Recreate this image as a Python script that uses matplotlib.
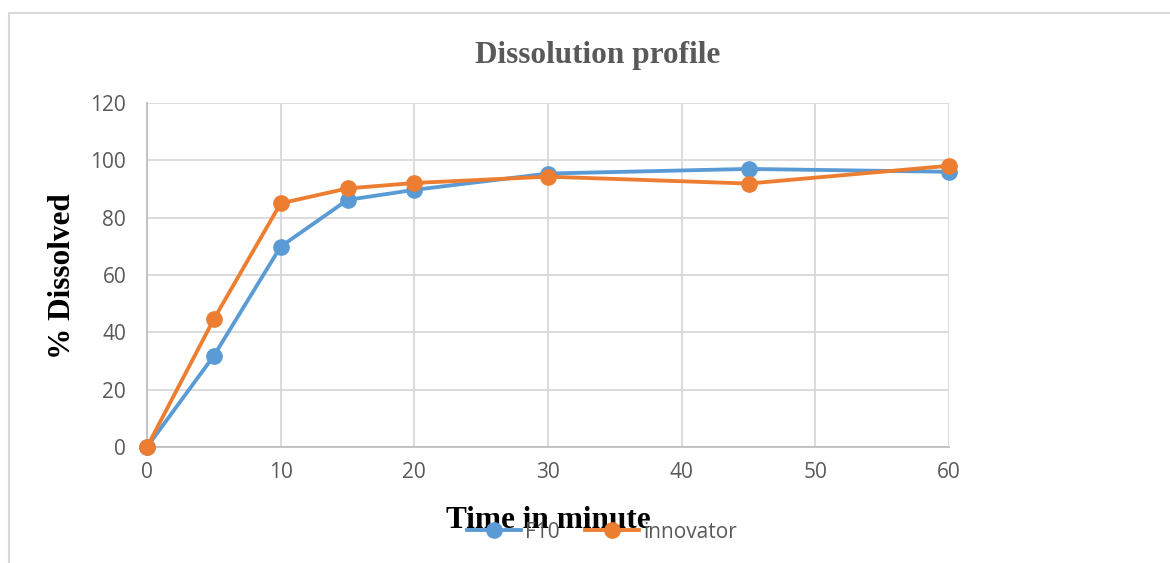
import matplotlib
matplotlib.use('Agg')
from matplotlib import pyplot as plt
from matplotlib.patches import Rectangle

# data
time_min = [0, 5, 10, 15, 20, 30, 45, 60]
f10 = [0, 31.8, 69.9, 86.2, 89.7, 95.4, 97.0, 96.0]
innovator = [0, 44.6, 85.0, 90.2, 92.1, 94.3, 91.9, 98.1]
x_ticks = [0, 10, 20, 30, 40, 50, 60]
y_ticks = [0, 20, 40, 60, 80, 100, 120]

blue = '#5b9bd5'
orange = '#ed7d31'
grey_txt = '#595959'

fig = plt.figure(figsize=(11.7, 5.63), dpi=100)
ax = fig.add_axes([147 / 1170, 116 / 563, 802 / 1170, 344 / 563])

ax.plot(time_min, f10, color=blue, lw=2.75, marker='o', ms=11, label='F10',
        clip_on=False, zorder=3)
ax.plot(time_min, innovator, color=orange, lw=2.75, marker='o', ms=11,
        label='innovator', clip_on=False, zorder=4)

ax.set_xlim(0, 60)
ax.set_ylim(0, 120)
ax.set_xticks(x_ticks)
ax.set_yticks(y_ticks)
ax.grid(True, color='#d9d9d9', lw=1.3)
ax.set_axisbelow(True)
for s in ['top', 'right']:
    ax.spines[s].set_visible(False)
for s in ['left', 'bottom']:
    ax.spines[s].set_color('#bfbfbf')
    ax.spines[s].set_linewidth(1.3)

ax.tick_params(axis='both', length=0, labelsize=15, labelcolor=grey_txt)
ax.tick_params(axis='y', pad=15)
ax.tick_params(axis='x', pad=11)
for lab in ax.get_xticklabels() + ax.get_yticklabels():
    lab.set_family('Open Sans')

fig.text(598 / 1170, 1 - 55 / 563, 'Dissolution profile', ha='center', va='center',
         family='Liberation Serif', weight='bold', fontsize=22.5, color=grey_txt)
fig.text(62 / 1170, 1 - 276 / 563, '% Dissolved', ha='center', va='center',
         rotation=90, family='Liberation Serif', weight='bold', fontsize=22.5,
         color='black')
fig.text(548 / 1170, 1 - 520 / 563, 'Time in minute', ha='center', va='center',
         family='Liberation Serif', weight='bold', fontsize=22.5, color='black')

leg = fig.legend(loc='center', bbox_to_anchor=(602 / 1170, 1 - 532 / 563), ncol=2,
                 frameon=False, prop={'family': 'Open Sans', 'size': 15},
                 handlelength=2.6, handletextpad=0.2, columnspacing=1.2,
                 borderpad=0, borderaxespad=0)
for t in leg.get_texts():
    t.set_color(grey_txt)

# chart area border
fig.patches.append(Rectangle((9 / 1170, -0.1), 1.2, 1.1 - 13 / 563,
                             transform=fig.transFigure, fill=False,
                             edgecolor='#d9d9d9', lw=1.5))

fig.savefig('out.png', dpi=100)
